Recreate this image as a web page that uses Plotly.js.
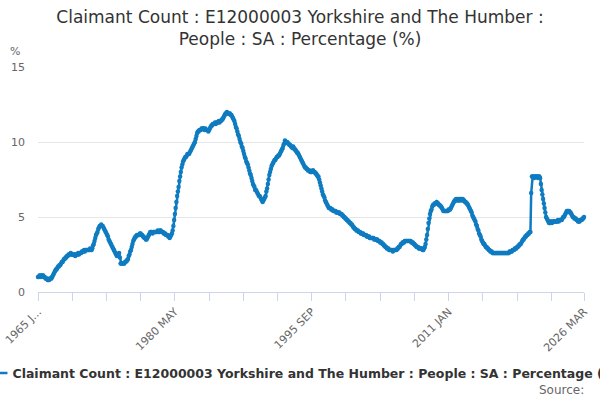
<!DOCTYPE html>
<html>
<head>
<meta charset="utf-8">
<script src="https://cdn.plot.ly/plotly-3.0.1.min.js"></script>
<style>
  html, body { margin: 0; padding: 0; background: #fff; }
  #chart { width: 600px; height: 400px; }
</style>
</head>
<body>
<div id="chart"></div>
<script>
// claimant count rate, monthly, 1965 JAN .. 2026 MAR
var rate = [
  1.0, 1.0, 1.1, 1.1, 1.0, 1.1, 1.1, 1.1, 1.0, 1.0, 0.9, 0.9,   // 1965
  0.9, 0.8, 0.8, 0.8, 0.9, 0.9, 0.9, 1.0, 1.1, 1.2, 1.3, 1.4,   // 1966
  1.5, 1.5, 1.6, 1.7, 1.7, 1.8, 1.8, 1.9, 2.0, 2.0, 2.1, 2.2,   // 1967
  2.2, 2.3, 2.3, 2.4, 2.4, 2.5, 2.5, 2.5, 2.6, 2.5, 2.5, 2.5,   // 1968
  2.5, 2.5, 2.4, 2.5, 2.5, 2.5, 2.6, 2.5, 2.6, 2.6, 2.6, 2.7,   // 1969
  2.7, 2.7, 2.8, 2.7, 2.8, 2.8, 2.8, 2.8, 2.8, 2.8, 2.9, 2.8,   // 1970
  2.8, 2.9, 3.1, 3.2, 3.4, 3.6, 3.8, 3.9, 4.0, 4.2, 4.3, 4.4,   // 1971
  4.4, 4.5, 4.4, 4.4, 4.3, 4.2, 4.1, 4.0, 3.9, 3.8, 3.7, 3.5,   // 1972
  3.4, 3.3, 3.2, 3.1, 3.0, 2.9, 2.8, 2.7, 2.6, 2.5, 2.4, 2.5,   // 1973
  2.5, 2.6, 2.3, 1.9, 1.9, 1.9, 1.9, 1.9, 1.9, 2.0, 2.0, 2.1,   // 1974
  2.1, 2.2, 2.4, 2.5, 2.7, 2.8, 3.0, 3.2, 3.4, 3.5, 3.6, 3.7,   // 1975
  3.7, 3.8, 3.8, 3.8, 3.8, 3.9, 3.9, 3.8, 3.8, 3.7, 3.7, 3.6,   // 1976
  3.6, 3.5, 3.5, 3.6, 3.7, 3.8, 3.9, 4.0, 4.0, 4.0, 3.9, 4.0,   // 1977
  4.0, 4.0, 4.0, 4.0, 4.0, 4.1, 4.0, 4.0, 4.1, 4.1, 4.0, 4.0,   // 1978
  4.0, 3.9, 3.9, 3.9, 3.8, 3.8, 3.8, 3.7, 3.7, 3.6, 3.7, 3.8,   // 1979
  3.9, 4.1, 4.4, 4.8, 5.2, 5.6, 6.0, 6.4, 6.7, 7.0, 7.4, 7.7,   // 1980
  8.0, 8.3, 8.5, 8.7, 8.8, 8.9, 9.0, 9.0, 9.1, 9.2, 9.2, 9.2,   // 1981
  9.3, 9.4, 9.5, 9.6, 9.7, 9.8, 9.9, 10.0, 10.2, 10.4, 10.6, 10.7,   // 1982
  10.7, 10.8, 10.8, 10.8, 10.9, 10.9, 10.9, 10.9, 10.8, 10.9, 10.8, 10.8,   // 1983
  10.8, 10.7, 10.8, 10.9, 11.0, 11.1, 11.1, 11.2, 11.2, 11.2, 11.3, 11.2,   // 1984
  11.3, 11.3, 11.3, 11.4, 11.3, 11.4, 11.4, 11.5, 11.5, 11.6, 11.7, 11.8,   // 1985
  11.9, 11.9, 12.0, 11.9, 11.9, 11.9, 11.9, 11.8, 11.8, 11.7, 11.6, 11.5,   // 1986
  11.4, 11.2, 11.0, 10.9, 10.7, 10.5, 10.4, 10.2, 10.0, 9.9, 9.7, 9.6,   // 1987
  9.4, 9.2, 9.0, 8.9, 8.7, 8.6, 8.5, 8.3, 8.1, 7.9, 7.8, 7.6,   // 1988
  7.4, 7.2, 7.1, 7.0, 6.8, 6.8, 6.7, 6.6, 6.5, 6.4, 6.4, 6.3,   // 1989
  6.2, 6.1, 6.0, 6.1, 6.2, 6.3, 6.4, 6.7, 6.9, 7.2, 7.5, 7.8,   // 1990
  8.0, 8.2, 8.4, 8.5, 8.6, 8.7, 8.8, 8.8, 8.9, 9.0, 9.0, 9.1,   // 1991
  9.1, 9.2, 9.3, 9.4, 9.5, 9.6, 9.8, 9.9, 10.1, 10.0, 10.0, 10.0,   // 1992
  9.9, 9.9, 9.8, 9.8, 9.7, 9.7, 9.6, 9.7, 9.6, 9.5, 9.5, 9.4,   // 1993
  9.3, 9.3, 9.2, 9.1, 9.0, 8.9, 8.8, 8.7, 8.6, 8.5, 8.4, 8.3,   // 1994
  8.3, 8.2, 8.2, 8.1, 8.1, 8.1, 8.0, 8.0, 8.0, 8.1, 8.1, 8.0,   // 1995
  8.0, 7.9, 7.9, 7.8, 7.7, 7.7, 7.5, 7.3, 7.1, 6.9, 6.7, 6.5,   // 1996
  6.4, 6.3, 6.1, 6.0, 5.9, 5.8, 5.7, 5.6, 5.6, 5.6, 5.5, 5.5,   // 1997
  5.5, 5.4, 5.4, 5.4, 5.4, 5.3, 5.3, 5.3, 5.3, 5.3, 5.2, 5.2,   // 1998
  5.2, 5.1, 5.1, 5.0, 5.0, 4.9, 4.9, 4.8, 4.8, 4.7, 4.7, 4.6,   // 1999
  4.6, 4.5, 4.5, 4.4, 4.3, 4.3, 4.2, 4.2, 4.1, 4.1, 4.1, 4.0,   // 2000
  4.0, 4.0, 3.9, 3.9, 3.9, 3.9, 3.8, 3.8, 3.8, 3.8, 3.7, 3.7,   // 2001
  3.7, 3.7, 3.6, 3.6, 3.6, 3.6, 3.6, 3.6, 3.5, 3.5, 3.5, 3.5,   // 2002
  3.5, 3.4, 3.4, 3.4, 3.3, 3.3, 3.3, 3.2, 3.2, 3.1, 3.1, 3.0,   // 2003
  3.0, 2.9, 2.9, 2.9, 2.8, 2.8, 2.8, 2.8, 2.8, 2.7, 2.8, 2.8,   // 2004
  2.8, 2.8, 2.8, 2.9, 2.9, 3.0, 3.0, 3.1, 3.2, 3.2, 3.3, 3.3,   // 2005
  3.3, 3.4, 3.4, 3.4, 3.4, 3.4, 3.4, 3.4, 3.4, 3.4, 3.3, 3.3,   // 2006
  3.3, 3.2, 3.2, 3.1, 3.1, 3.0, 3.0, 3.0, 2.9, 2.9, 2.9, 2.9,   // 2007
  2.9, 2.8, 2.8, 2.9, 3.0, 3.2, 3.5, 3.8, 4.2, 4.6, 4.9, 5.2,   // 2008
  5.4, 5.5, 5.7, 5.8, 5.8, 5.9, 5.9, 5.9, 6.0, 5.9, 5.9, 5.8,   // 2009
  5.8, 5.7, 5.7, 5.6, 5.5, 5.4, 5.4, 5.4, 5.4, 5.4, 5.4, 5.4,   // 2010
  5.5, 5.5, 5.5, 5.6, 5.7, 5.8, 5.9, 6.0, 6.1, 6.1, 6.2, 6.1,   // 2011
  6.2, 6.1, 6.2, 6.1, 6.2, 6.2, 6.1, 6.2, 6.1, 6.1, 6.0, 6.0,   // 2012
  5.9, 5.9, 5.8, 5.7, 5.6, 5.5, 5.4, 5.3, 5.1, 5.0, 4.9, 4.8,   // 2013
  4.7, 4.5, 4.4, 4.2, 4.1, 3.9, 3.8, 3.7, 3.5, 3.4, 3.3, 3.2,   // 2014
  3.2, 3.1, 3.0, 3.0, 2.9, 2.9, 2.8, 2.8, 2.7, 2.7, 2.7, 2.6,   // 2015
  2.6, 2.6, 2.6, 2.6, 2.6, 2.6, 2.6, 2.6, 2.6, 2.6, 2.6, 2.6,   // 2016
  2.6, 2.6, 2.6, 2.6, 2.6, 2.6, 2.6, 2.6, 2.6, 2.6, 2.7, 2.7,   // 2017
  2.7, 2.7, 2.8, 2.8, 2.8, 2.9, 2.9, 2.9, 3.0, 3.0, 3.1, 3.1,   // 2018
  3.2, 3.2, 3.3, 3.4, 3.5, 3.5, 3.6, 3.7, 3.7, 3.8, 3.8, 3.9,   // 2019
  3.9, 4.0, 4.0, 6.6, 7.7, 7.7, 7.7, 7.6, 7.7, 7.7, 7.7, 7.7,   // 2020
  7.6, 7.7, 7.7, 7.6, 7.2, 6.8, 6.5, 6.2, 5.9, 5.6, 5.3, 5.0,   // 2021
  4.9, 4.8, 4.7, 4.6, 4.6, 4.7, 4.7, 4.6, 4.7, 4.7, 4.7, 4.7,   // 2022
  4.7, 4.7, 4.7, 4.8, 4.7, 4.8, 4.8, 4.8, 4.8, 4.9, 5.0, 5.0,   // 2023
  5.1, 5.2, 5.3, 5.4, 5.4, 5.4, 5.4, 5.3, 5.3, 5.2, 5.1, 5.0,   // 2024
  5.0, 4.9, 4.9, 4.9, 4.8, 4.8, 4.7, 4.7, 4.7, 4.8, 4.8, 4.8,   // 2025
  4.9, 4.9, 5.0                                                 // 2026
];

var monthNames = ['JAN', 'FEB', 'MAR', 'APR', 'MAY', 'JUN', 'JUL', 'AUG', 'SEP', 'OCT', 'NOV', 'DEC'];
var months = [];
for (var i = 0; i < rate.length; i++) {
  months.push((1965 + Math.floor(i / 12)) + ' ' + monthNames[i % 12]);
}

// ticks every 46 months plus the last month, only every fourth one labelled
var tickMonths = ['1965 JAN', '1968 NOV', '1972 SEP', '1976 JUL', '1980 MAY', '1984 MAR', '1988 JAN', '1991 NOV',
                  '1995 SEP', '1999 JUL', '2003 MAY', '2007 MAR', '2011 JAN', '2014 NOV', '2018 SEP', '2022 JUL', '2026 MAR'];
var tickLabels = ['1965 J...', '', '', '', '1980 MAY', '', '', '', '1995 SEP', '', '', '', '2011 JAN', '', '', '', '2026 MAR'];

var seriesName = 'Claimant Count : E12000003 Yorkshire and The Humber : People : SA : Percentage (%)';
var blue = '#0f7bc0';

var data = [{
  type: 'scatter',
  mode: 'lines+markers',
  name: seriesName,
  x: months,
  y: rate,
  line: { color: blue, width: 2.5 },
  marker: { color: blue, size: 4.5 },
  cliponaxis: false
}];

var layout = {
  width: 600,
  height: 400,
  font: { family: 'DejaVu Sans, sans-serif', color: '#666666' },
  paper_bgcolor: '#ffffff',
  plot_bgcolor: '#ffffff',
  margin: { l: 38, r: 16, t: 67, b: 108, autoexpand: false },
  title: {
    text: 'Claimant Count : E12000003 Yorkshire and The Humber :<br>People : SA : Percentage (%)',
    x: 0.5,
    xanchor: 'center',
    y: 0.942,
    yanchor: 'top',
    font: { size: 17, color: '#333333' }
  },
  xaxis: {
    type: 'category',
    range: [0, rate.length - 1],
    showgrid: false,
    showline: true,
    linecolor: '#ccd6eb',
    ticks: 'outside',
    ticklen: 8,
    tickcolor: '#ccd6eb',
    tickmode: 'array',
    tickvals: tickMonths,
    ticktext: tickLabels,
    tickangle: -45,
    tickfont: { size: 11, color: '#666666' }
  },
  yaxis: {
    range: [0, 15],
    tickvals: [0, 5, 10, 15],
    showgrid: true,
    gridcolor: '#e6e6e6',
    zeroline: false,
    showline: false,
    ticklabelstandoff: 12,
    tickfont: { size: 11, color: '#666666' }
  },
  showlegend: true,
  legend: {
    orientation: 'h',
    x: -0.12,
    xanchor: 'left',
    y: -0.295,
    yanchor: 'top',
    font: { size: 12.5, color: '#333333', weight: 'bold' },
    bgcolor: 'rgba(0,0,0,0)'
  },
  annotations: [
    { text: '%', xref: 'paper', yref: 'paper', x: -0.042, y: 1.067, xanchor: 'center', yanchor: 'middle',
      showarrow: false, font: { size: 11, color: '#666666' } },
    { text: 'Source:', xref: 'paper', yref: 'paper', x: 1.003, y: -0.435, xanchor: 'right', yanchor: 'middle',
      showarrow: false, font: { size: 12, color: '#666666' } }
  ]
};

Plotly.newPlot('chart', data, layout, { displayModeBar: false, staticPlot: true });
</script>
</body>
</html>
